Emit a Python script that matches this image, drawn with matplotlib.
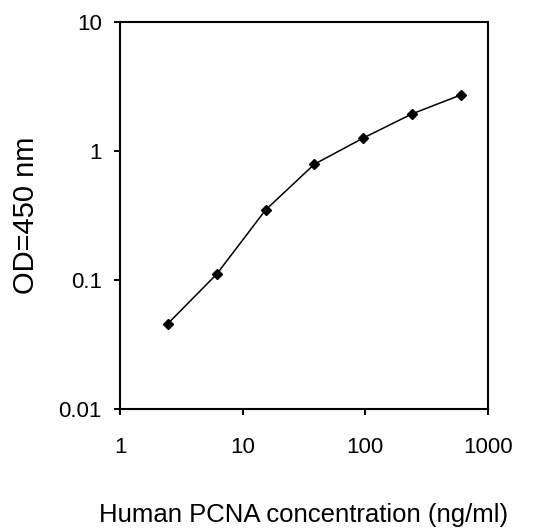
import matplotlib
matplotlib.use('Agg')
import matplotlib.pyplot as plt
from matplotlib.ticker import FixedLocator, FixedFormatter, NullLocator

plt.rcParams['font.family'] = ['Liberation Sans', 'DejaVu Sans']

# Standard curve data
conc = [2.46, 6.14, 15.36, 38.4, 96, 240, 600]
od = [0.046, 0.111, 0.349, 0.79, 1.26, 1.94, 2.72]

x_ticks = [1, 10, 100, 1000]
x_labels = ['1', '10', '100', '1000']
y_ticks = [0.01, 0.1, 1, 10]
y_labels = ['0.01', '0.1', '1', '10']

fig = plt.figure(figsize=(5.52, 5.29), dpi=100)
ax = fig.add_axes([0.2174, 0.2268, 0.8841 - 0.2174, 0.9584 - 0.2268])

ax.plot(conc, od, color='black', lw=1.1, marker='D', markersize=5)

ax.set_xscale('log')
ax.set_yscale('log')
ax.set_xlim(1, 1000)
ax.set_ylim(0.01, 10)

ax.xaxis.set_major_locator(FixedLocator(x_ticks))
ax.xaxis.set_major_formatter(FixedFormatter(x_labels))
ax.yaxis.set_major_locator(FixedLocator(y_ticks))
ax.yaxis.set_major_formatter(FixedFormatter(y_labels))
ax.xaxis.set_minor_locator(NullLocator())
ax.yaxis.set_minor_locator(NullLocator())

ax.tick_params(axis='x', direction='out', length=4, width=1.4, pad=16, labelsize=16)
ax.tick_params(axis='y', direction='out', length=4, width=1.4, pad=9, labelsize=16)

for s in ax.spines.values():
    s.set_linewidth(1.5)

ax.set_xlabel('Human PCNA concentration (ng/ml)', fontsize=18.5)
ax.xaxis.label.set_verticalalignment('center')
ax.xaxis.set_label_coords(0.5, -0.274)

ax.set_ylabel('OD=450 nm', fontsize=21)
ax.yaxis.label.set_verticalalignment('center')
ax.yaxis.set_label_coords(-0.255, 0.5)

fig.savefig('out.png', dpi=100)
